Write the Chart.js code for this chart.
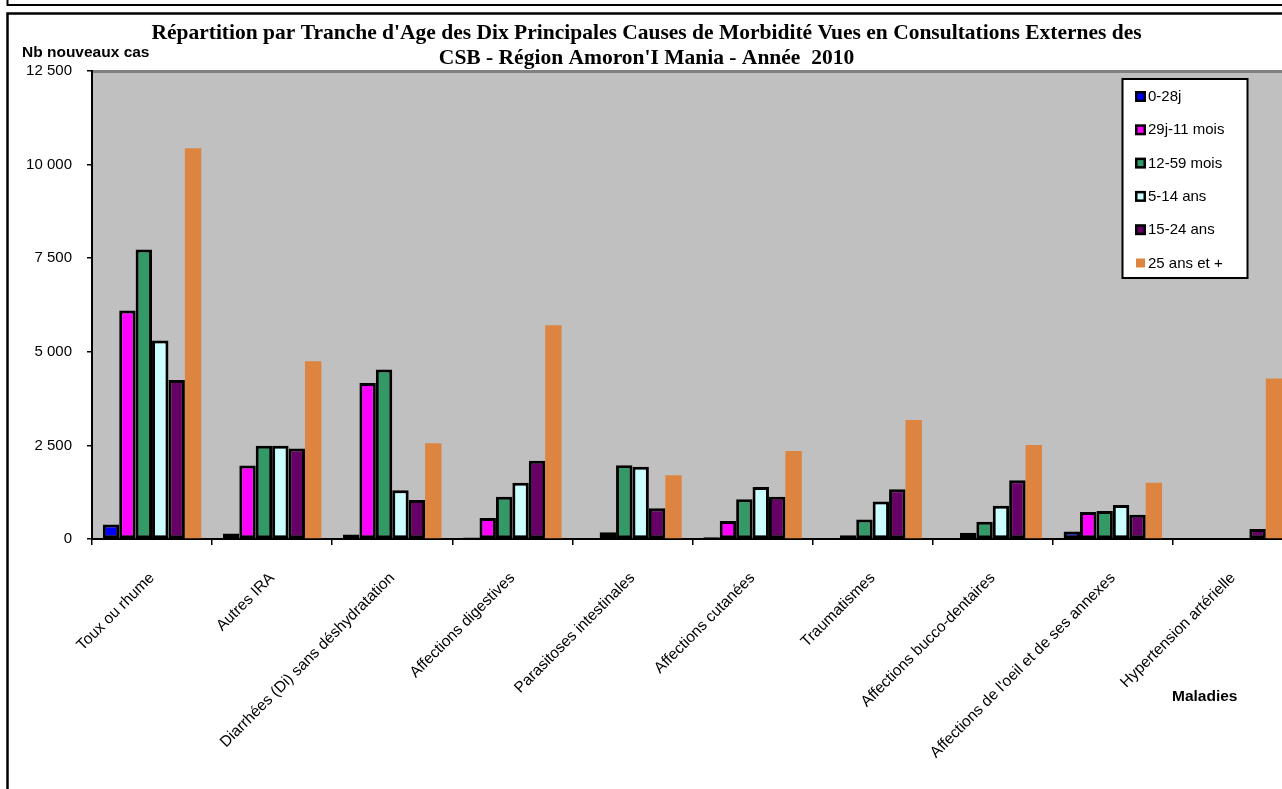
<!DOCTYPE html>
<html>
<head>
<meta charset="utf-8">
<script src="https://cdn.jsdelivr.net/npm/chart.js@4/dist/chart.umd.min.js"></script>
<style>
  html, body { margin: 0; padding: 0; overflow: hidden; background: #fff; }
  #wrap { position: absolute; left: 0; top: 0; width: 1293px; height: 789px; }
</style>
</head>
<body>
<div id="wrap"><canvas id="chart" width="1293" height="789"></canvas></div>
<script>
const categories = [
    'Toux ou rhume',
    'Autres IRA',
    'Diarrhées (Di) sans déshydratation',
    'Affections digestives',
    'Parasitoses intestinales',
    'Affections cutanées',
    'Traumatismes',
    'Affections bucco-dentaires',
    "Affections de l'oeil et de ses annexes",
    'Hypertension artérielle'
];
const ageGroups = ['0-28j', '29j-11 mois', '12-59 mois', '5-14 ans', '15-24 ans', '25 ans et +'];

const age0to28j = [390, 150, 120, 40, 10, 50, 20, 15, 200, 0];
const age29jTo11m = [6100, 1960, 4170, 560, 180, 480, 100, 170, 720, 5];
const age12to59m = [7730, 2490, 4530, 1130, 1970, 1060, 520, 460, 750, 5];
const age5to14 = [5300, 2490, 1300, 1500, 1930, 1390, 1000, 890, 910, 15];
const age15to24 = [4250, 2420, 1040, 2090, 820, 1130, 1330, 1570, 650, 270];
const age25plus = [10440, 4750, 2560, 5710, 1700, 2350, 3180, 2510, 1500, 4290];

const yTicks = [0, 2500, 5000, 7500, 10000, 12500];

const seriesValues = [age0to28j, age29jTo11m, age12to59m, age5to14, age15to24, age25plus];
const colors = ['#0000ff', '#ff00ff', '#339966', '#ccffff', '#660066', '#dd8440'];
const borders = [3, 3, 3, 3, 3, 0];

const sans = '"Liberation Sans", Arial, sans-serif';

function formatNb(v) {
    return String(v).replace(/\B(?=(\d{3})+(?!\d))/g, ' ');
}

// white page, frame lines and grey plot background
const backdrop = {
    id: 'backdrop',
    beforeDraw(chart) {
        const ctx = chart.ctx;
        const a = chart.chartArea;
        ctx.save();
        ctx.fillStyle = '#fff';
        ctx.fillRect(0, 0, chart.width, chart.height);
        ctx.strokeStyle = '#000';
        ctx.lineWidth = 2;
        ctx.beginPath();
        ctx.moveTo(7.5, 0);
        ctx.lineTo(7.5, 5);
        ctx.lineTo(chart.width, 5);
        ctx.stroke();
        ctx.lineWidth = 2.5;
        ctx.beginPath();
        ctx.moveTo(chart.width + 5, 13.5);
        ctx.lineTo(7.5, 13.5);
        ctx.lineTo(7.5, chart.height + 5);
        ctx.stroke();
        ctx.fillStyle = '#c0c0c0';
        ctx.fillRect(a.left, a.top, a.right - a.left, a.bottom - a.top);
        ctx.strokeStyle = '#808080';
        ctx.lineWidth = 3;
        ctx.beginPath();
        ctx.moveTo(a.left, a.top + 0.5);
        ctx.lineTo(a.right, a.top + 0.5);
        ctx.stroke();
        ctx.restore();
    }
};

// axis titles and the legend box inside the plot
const extras = {
    id: 'extras',
    afterDraw(chart) {
        const ctx = chart.ctx;
        ctx.save();
        ctx.fillStyle = '#000';
        ctx.font = 'bold 15.5px ' + sans;
        ctx.textBaseline = 'middle';
        ctx.textAlign = 'left';
        ctx.fillText('Nb nouveaux cas', 22, 53);
        ctx.fillText('Maladies', 1172, 697);

        ctx.fillStyle = '#fff';
        ctx.fillRect(1122.5, 79, 125, 199);
        ctx.strokeStyle = '#000';
        ctx.lineWidth = 2;
        ctx.strokeRect(1122.5, 79, 125, 199);

        ctx.font = '15px ' + sans;
        chart.data.datasets.forEach((ds, i) => {
            const y = 96.5 + i * 33.3;
            if (ds.borderWidth > 0) {
                ctx.fillStyle = '#000';
                ctx.fillRect(1135, y - 5.5, 11, 11);
                ctx.fillStyle = ds.backgroundColor;
                ctx.fillRect(1137.5, y - 3, 6, 6);
            } else {
                ctx.fillStyle = ds.backgroundColor;
                ctx.fillRect(1136, y - 4.5, 9, 9);
            }
            ctx.fillStyle = '#000';
            ctx.fillText(ds.label, 1148, y + 0.5);
        });
        ctx.restore();
    }
};

new Chart(document.getElementById('chart').getContext('2d'), {
    type: 'bar',
    data: {
        labels: categories,
        datasets: ageGroups.map((name, i) => ({
            label: name,
            data: seriesValues[i],
            backgroundColor: colors[i],
            borderColor: '#000',
            borderWidth: borders[i],
            borderSkipped: false,
            categoryPercentage: 0.82,
            barPercentage: 1.0
        }))
    },
    options: {
        responsive: false,
        animation: false,
        devicePixelRatio: 1,
        layout: { padding: 0 },
        plugins: {
            legend: { display: false },
            tooltip: { enabled: false },
            title: {
                display: true,
                text: [
                    "Répartition par Tranche d'Age des Dix Principales Causes de Morbidité Vues en Consultations Externes des",
                    "CSB - Région Amoron'I Mania - Année  2010"
                ],
                color: '#000',
                font: { family: '"Liberation Serif", "Times New Roman", serif', size: 21.5, weight: 'bold', lineHeight: '25px' },
                padding: { top: 21, bottom: 0 }
            }
        },
        scales: {
            x: {
                grid: { offset: true, drawOnChartArea: false, drawTicks: true, tickLength: 6, color: '#000', lineWidth: 1.5 },
                border: { color: '#000', width: 2 },
                ticks: {
                    color: '#000',
                    font: { family: sans, size: 15.5 },
                    minRotation: 45,
                    maxRotation: 45,
                    autoSkip: false,
                    padding: 24
                },
                afterFit(scale) { scale.height = 250; }
            },
            y: {
                min: 0,
                max: 12500,
                afterBuildTicks(scale) { scale.ticks = yTicks.map(v => ({ value: v })); },
                grid: { drawOnChartArea: false, drawTicks: true, tickLength: 5, color: '#000', lineWidth: 1.5 },
                border: { color: '#000', width: 2 },
                ticks: {
                    color: '#000',
                    font: { family: sans, size: 15 },
                    padding: 15,
                    callback: v => formatNb(v)
                },
                afterFit(scale) { scale.width = 92; }
            }
        }
    },
    plugins: [backdrop, extras]
});
</script>
</body>
</html>
